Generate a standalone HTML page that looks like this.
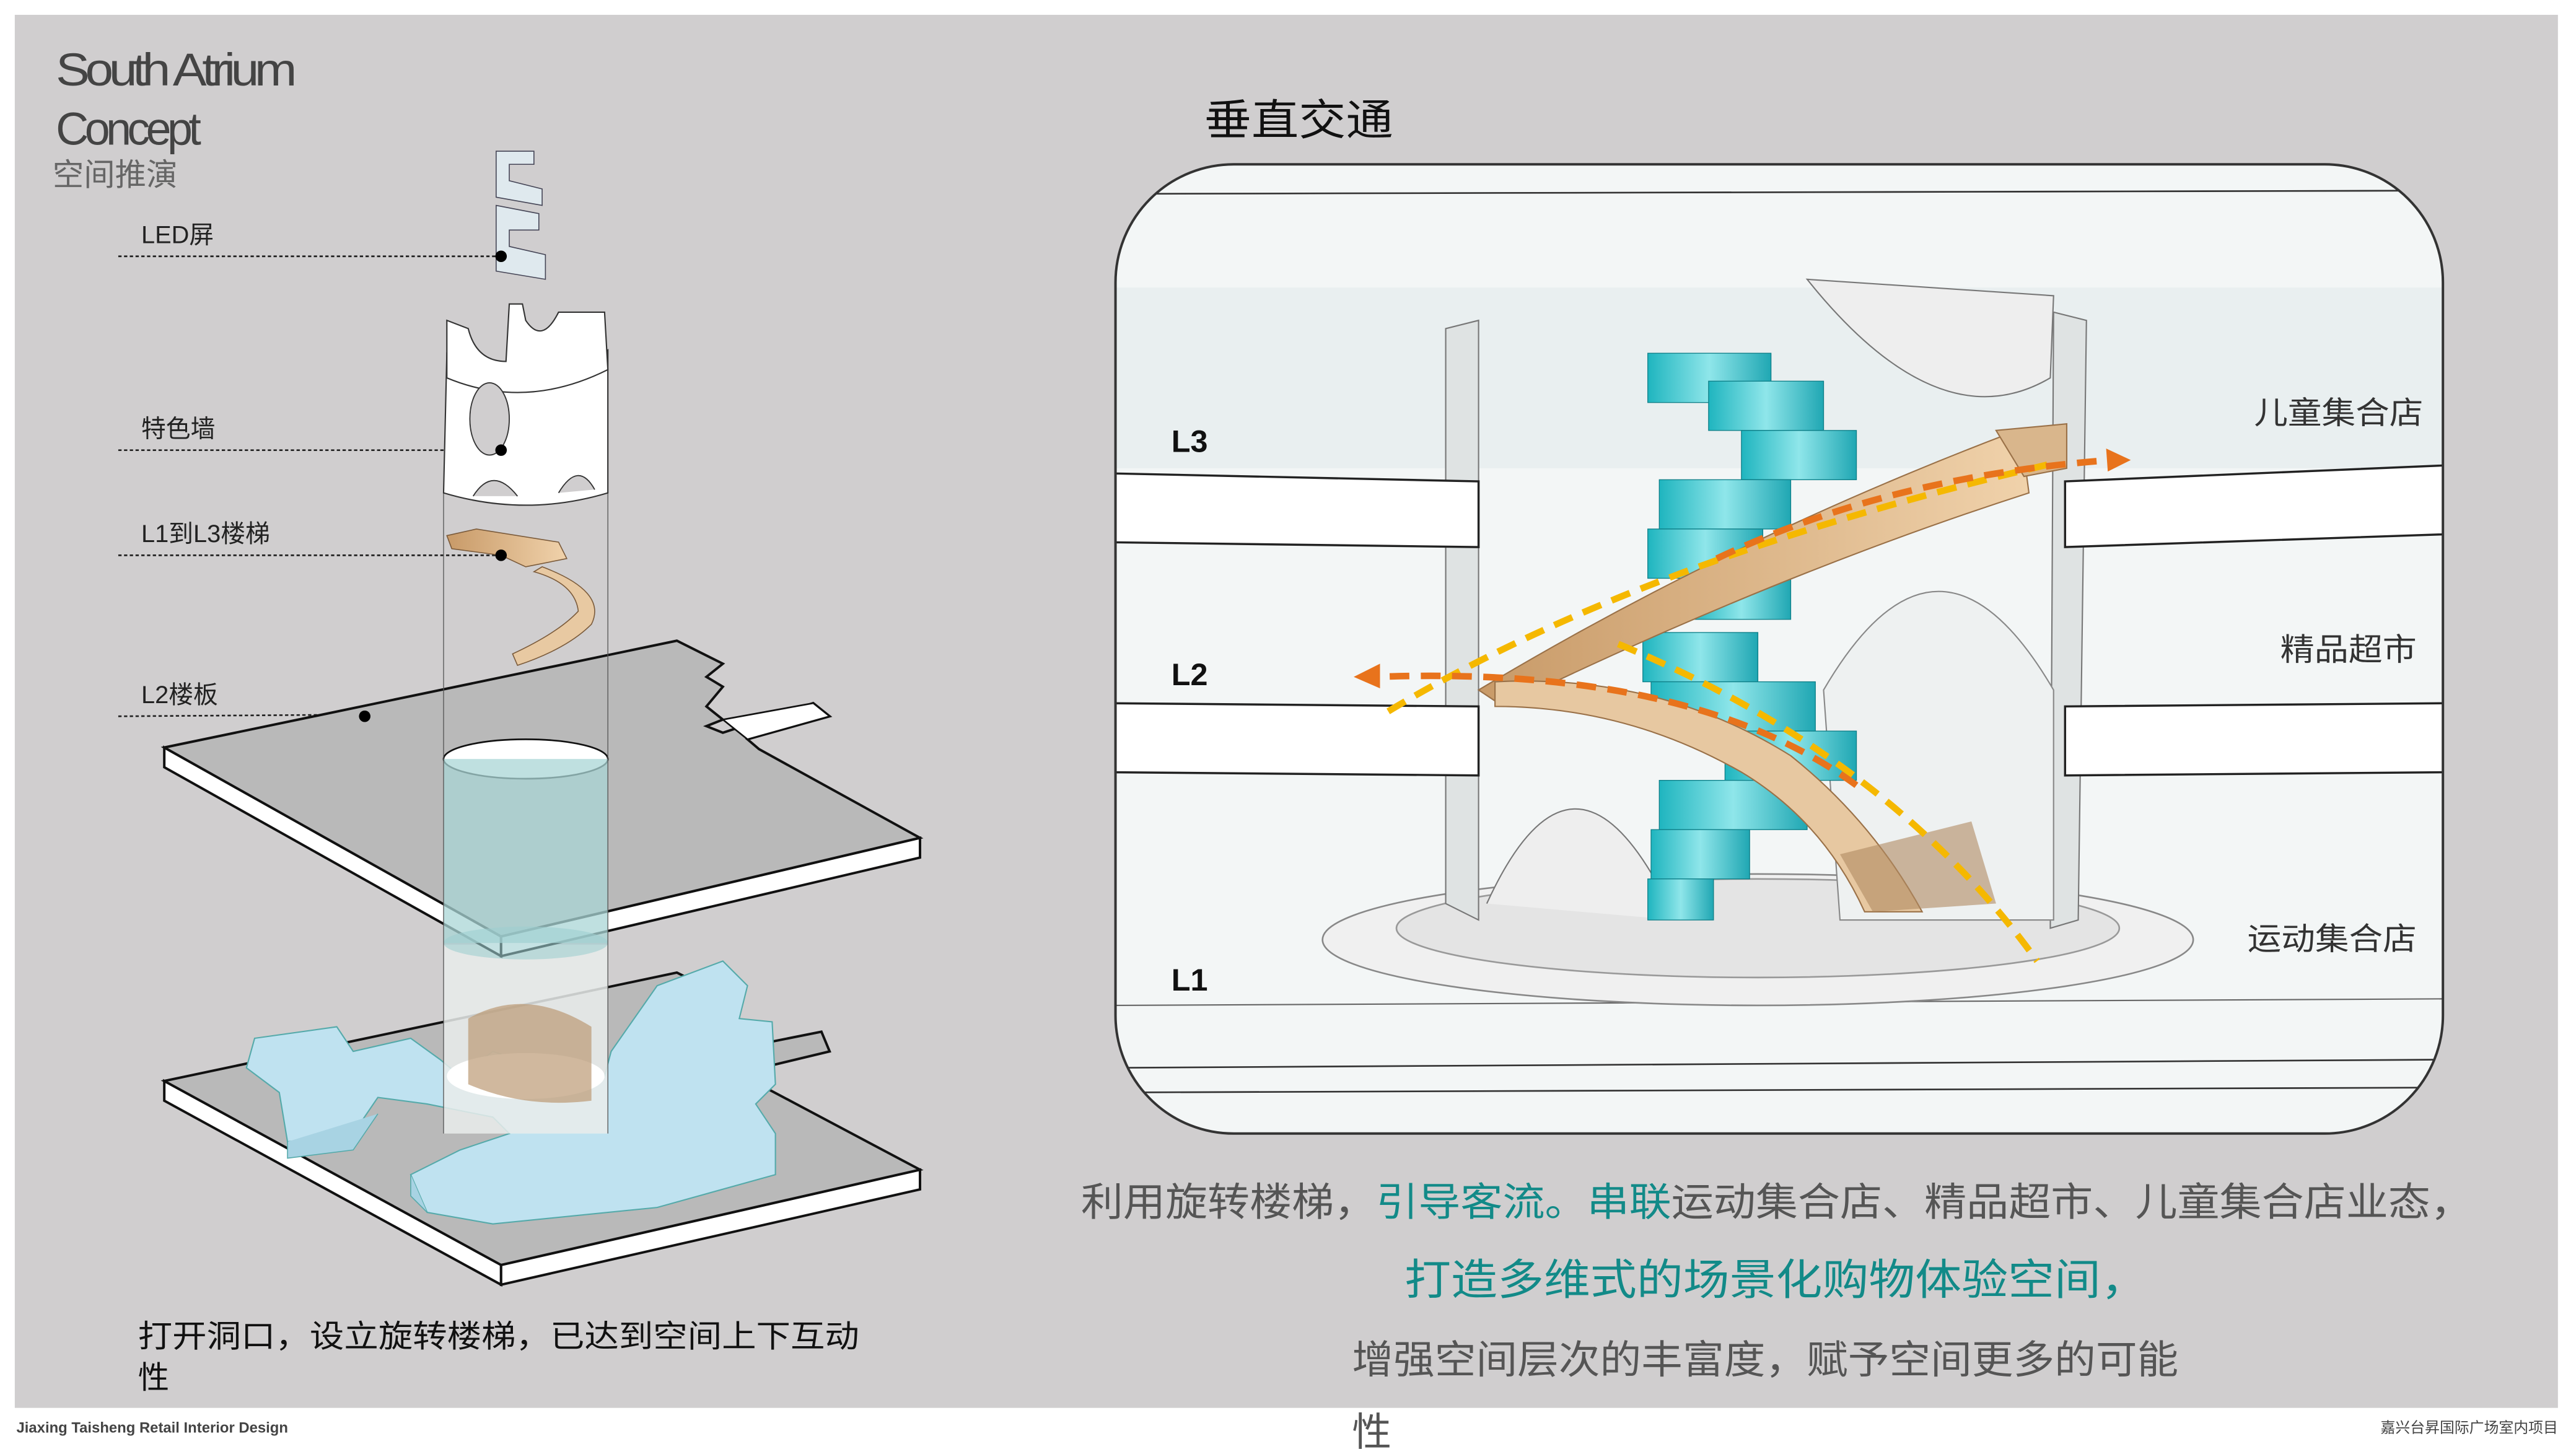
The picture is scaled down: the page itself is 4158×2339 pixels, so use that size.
<!DOCTYPE html>
<html><head><meta charset="utf-8"><style>
html,body{margin:0;padding:0;background:#fff;}
svg{display:block;}
text{font-family:"Liberation Sans","Noto Sans CJK SC",sans-serif;}
</style></head><body>
<svg width="4158" height="2339" viewBox="0 0 1568 882" xmlns="http://www.w3.org/2000/svg">
<defs>
<clipPath id="pc"><rect x="679" y="100" width="808" height="590" rx="72"/></clipPath>
<linearGradient id="tl" x1="0" x2="1"><stop offset="0" stop-color="#1fb5bf"/><stop offset="0.5" stop-color="#8fe6ea"/><stop offset="1" stop-color="#20a7b3"/></linearGradient>
<linearGradient id="wd" x1="0" x2="1"><stop offset="0" stop-color="#c89a68"/><stop offset="1" stop-color="#f0d2ab"/></linearGradient>
</defs>
<rect width="1568" height="882" fill="#fff"/>
<rect x="9" y="9" width="1548" height="848" fill="#d0cecf"/>

<text x="34" y="52" font-size="28" fill="#444" letter-spacing="-2.5" textLength="144" lengthAdjust="spacingAndGlyphs">South Atrium</text>
<text x="34" y="88" font-size="28" fill="#444" letter-spacing="-2.5" textLength="86" lengthAdjust="spacingAndGlyphs">Concept</text>
<text x="32" y="113" font-size="19" fill="#666">空间推演</text>

<g font-size="15" fill="#222">
<text x="86" y="148">LED屏</text>
<text x="86" y="266">特色墙</text>
<text x="86" y="330">L1到L3楼梯</text>
<text x="86" y="428">L2楼板</text>
</g>
<g stroke="#222" stroke-width="1" stroke-dasharray="2,1.5" fill="none">
<line x1="72" y1="156" x2="305" y2="156"/>
<line x1="72" y1="274" x2="305" y2="274"/>
<line x1="72" y1="338" x2="305" y2="338"/>
<path d="M72 436 L218 435"/>
</g>

<!-- L1 slab -->
<polygon points="100,658 305,770 305,782 100,670" fill="#fff" stroke="#111" stroke-width="1.5"/>
<polygon points="305,770 560,712 560,724 305,782" fill="#fff" stroke="#111" stroke-width="1.5"/>
<polygon points="100,658 412,592 440,606 430,614 440,620 430,632 440,640 500,628 505,640 455,652 462,660 560,712 305,770" fill="#b9b9b9" stroke="#111" stroke-width="1.5"/>
<path d="M155 632 L205 625 L215 640 L250 632 L268 645 L280 655 L300 640 L330 650 L368 655 L372 640 L400 600 L440 585 L455 600 L450 620 L470 622 L472 660 L460 672 L472 690 L472 715 L400 735 L300 745 L260 738 L250 715 L280 700 L310 690 L300 680 L260 672 L230 668 L215 690 L175 695 L170 665 L150 650 Z" fill="#bfe2f0" stroke="#5aa" stroke-width="0.8"/>
<path d="M175 695 L175 705 L215 700 L230 678" fill="#a8d3e3" stroke="#5aa" stroke-width="0.6"/>
<path d="M250 715 L250 728 L260 738" fill="#a8d3e3" stroke="#5aa" stroke-width="0.6"/>
<rect x="270" y="575" width="100" height="115" fill="#e9eceb" opacity="0.85"/>
<ellipse cx="320" cy="655" rx="48" ry="14" fill="#fff"/>
<path d="M285 620 Q320 600 360 625 L360 670 Q320 675 285 660 Z" fill="#bc9a75" opacity="0.7"/>

<!-- L2 slab -->
<polygon points="100,455 305,570 305,582 100,467" fill="#fff" stroke="#111" stroke-width="1.5"/>
<polygon points="305,570 560,510 560,522 305,582" fill="#fff" stroke="#111" stroke-width="1.5"/>
<polygon points="100,455 412,390 440,404 430,412 440,418 430,430 440,438 430,442 440,446 495,428 505,436 455,450 462,456 560,510 305,570" fill="#b9b9b9" stroke="#111" stroke-width="1.5"/>
<polygon points="440,438 495,428 505,436 455,450" fill="#fff" stroke="#111"/>
<ellipse cx="320" cy="462" rx="50" ry="12" fill="#fff" stroke="#111"/>
<rect x="270" y="462" width="100" height="112" fill="#a9d6d6" opacity="0.75"/>
<ellipse cx="320" cy="574" rx="50" ry="10" fill="#9fcfd0" opacity="0.6"/>
<line x1="270" y1="300" x2="270" y2="690" stroke="#555" stroke-width="0.5"/>
<line x1="370" y1="300" x2="370" y2="690" stroke="#555" stroke-width="0.5"/>
<circle cx="222" cy="436" r="3.5" fill="#000"/>

<!-- feature wall -->
<path d="M272 215 Q320 235 370 213 L370 300 Q320 315 270 300 Z" fill="#fff" stroke="#333" stroke-width="0.8"/>
<path d="M272 195 L272 230 Q320 250 370 225 L368 190 L340 190 Q330 210 320 195 L318 185 L310 185 L308 220 Q290 220 285 200 Z" fill="#fff" stroke="#333" stroke-width="0.8"/>
<ellipse cx="298" cy="255" rx="12" ry="22" fill="#d0cecf" stroke="#333" stroke-width="0.7"/>
<path d="M288 302 Q300 283 315 302" fill="#d0cecf" stroke="#333" stroke-width="0.7"/>
<path d="M340 300 Q352 280 362 298" fill="#d0cecf" stroke="#333" stroke-width="0.7"/>
<circle cx="305" cy="274" r="3.5" fill="#000"/>

<g fill="#dfe9ee" stroke="#445" stroke-width="0.6">
<path d="M302 92 L325 92 L325 100 L310 100 L310 110 L330 115 L330 125 L302 120 Z"/>
<path d="M302 125 L328 130 L328 140 L310 140 L310 150 L332 155 L332 170 L302 165 Z"/>
</g>
<circle cx="305" cy="156" r="3.5" fill="#000"/>

<path d="M272 326 L290 322 L340 330 L345 340 L320 345 L305 338 L275 334 Z" fill="url(#wd)" stroke="#7a5a3a" stroke-width="0.6"/>
<path d="M330 345 Q370 360 360 380 Q345 395 315 405 L312 398 Q340 385 352 372 Q350 355 325 348 Z" fill="#e8c9a2" stroke="#7a5a3a" stroke-width="0.6"/>
<circle cx="305" cy="338" r="3.5" fill="#000"/>

<text x="84" y="820" font-size="19" fill="#111" textLength="439" lengthAdjust="spacingAndGlyphs">打开洞口，设立旋转楼梯，已达到空间上下互动</text>
<text x="84" y="845" font-size="19" fill="#111">性</text>

<text x="733" y="82" font-size="26" fill="#111" textLength="115" lengthAdjust="spacingAndGlyphs">垂直交通</text>
<rect x="679" y="100" width="808" height="590" rx="72" fill="#fff"/>
<g clip-path="url(#pc)">
<rect x="679" y="100" width="808" height="590" fill="#f3f6f6"/>
<rect x="679" y="175" width="808" height="110" fill="#e9eff0"/>
<line x1="679" y1="118" x2="1487" y2="116" stroke="#333" stroke-width="1"/>
<line x1="679" y1="650" x2="1487" y2="645" stroke="#333" stroke-width="1"/>
<line x1="679" y1="665" x2="1487" y2="662" stroke="#333" stroke-width="1"/>
<line x1="679" y1="612" x2="1487" y2="608" stroke="#666" stroke-width="0.8"/>
<ellipse cx="1070" cy="572" rx="265" ry="40" fill="#f0f0f0" stroke="#888"/>
<ellipse cx="1070" cy="565" rx="220" ry="30" fill="#e4e4e4" stroke="#999"/>
<path d="M880 200 L900 195 L900 560 L880 550 Z" fill="#dfe3e3" stroke="#777" stroke-width="0.8"/>
<path d="M1250 190 L1270 195 L1265 560 L1248 565 Z" fill="#dfe3e3" stroke="#777" stroke-width="0.8"/>
<path d="M1100 170 Q1180 270 1248 230 L1250 180 Z" fill="#eee" stroke="#777" stroke-width="0.8"/>
<path d="M905 550 Q960 430 1020 560" fill="#eee" stroke="#777" stroke-width="0.8"/>
<path d="M1110 420 Q1180 300 1250 420 L1250 560 L1120 560 Z" fill="#eef1f1" stroke="#888" stroke-width="0.8"/>
<g fill="url(#tl)" stroke="#0e7f88" stroke-width="0.5">
<rect x="1003" y="215" width="75" height="30"/>
<rect x="1040" y="232" width="70" height="30"/>
<rect x="1060" y="262" width="70" height="30"/>
<rect x="1010" y="292" width="80" height="30"/>
<rect x="1003" y="322" width="70" height="30"/>
<rect x="1030" y="352" width="60" height="25"/>
<rect x="1000" y="385" width="70" height="30"/>
<rect x="1005" y="415" width="100" height="30"/>
<rect x="1050" y="445" width="80" height="30"/>
<rect x="1010" y="475" width="90" height="30"/>
<rect x="1005" y="505" width="60" height="30"/>
<rect x="1003" y="535" width="40" height="25"/>
</g>
<path d="M900 420 Q1050 330 1220 265 L1230 262 L1235 300 Q1080 350 915 430 Z" fill="url(#wd)" stroke="#9a7148" stroke-width="0.8"/>
<path d="M1215 262 L1258 258 L1258 285 L1232 290 Z" fill="#d9b68c" stroke="#9a7148" stroke-width="0.8"/>
<path d="M910 415 Q1010 410 1090 460 Q1140 500 1170 555 L1135 555 Q1110 500 1060 470 Q990 430 910 430 Z" fill="#e7c8a1" stroke="#9a7148" stroke-width="0.8"/>
<path d="M1120 520 L1200 500 L1215 550 L1140 555 Z" fill="#b08a62" opacity="0.6"/>
<g fill="#fff" stroke="#222" stroke-width="1.3">
<polygon points="670,288 900,293 900,333 670,330"/>
<polygon points="670,428 900,430 900,472 670,470"/>
<polygon points="1257,293 1495,283 1495,325 1257,333"/>
<polygon points="1257,430 1495,428 1495,470 1257,472"/>
</g>
<g fill="none" stroke-width="4" stroke-dasharray="12,7">
<path d="M845 433 Q1000 340 1250 282" stroke="#f5b800"/>
<path d="M985 392 Q1150 460 1240 585" stroke="#f5b800"/>
<path d="M1045 340 Q1150 290 1285 280" stroke="#e8731c"/>
<path d="M1130 478 Q1030 405 838 412" stroke="#e8731c"/>
</g>
<polygon points="1297,280 1282,273 1283,287" fill="#e8731c"/>
<polygon points="824,412 840,404 840,419" fill="#e8731c"/>
</g>
<rect x="679" y="100" width="808" height="590" rx="72" fill="none" stroke="#333" stroke-width="1.5"/>
<g font-size="19" font-weight="bold" fill="#111">
<text x="713" y="275">L3</text>
<text x="713" y="417">L2</text>
<text x="713" y="603">L1</text>
</g>
<g font-size="19" fill="#333">
<text x="1372" y="258" textLength="103" lengthAdjust="spacingAndGlyphs">儿童集合店</text>
<text x="1388" y="402" textLength="83" lengthAdjust="spacingAndGlyphs">精品超市</text>
<text x="1368" y="578" textLength="103" lengthAdjust="spacingAndGlyphs">运动集合店</text>
</g>

<text x="658" y="740" font-size="24" fill="#555" textLength="847" lengthAdjust="spacingAndGlyphs">利用旋转楼梯，<tspan fill="#128a88">引导客流。串联</tspan>运动集合店、精品超市、儿童集合店业态，</text>
<text x="855" y="788" font-size="26" fill="#128a88" textLength="452" lengthAdjust="spacingAndGlyphs">打造多维式的场景化购物体验空间，</text>
<text x="823" y="836" font-size="24" fill="#555" textLength="503" lengthAdjust="spacingAndGlyphs">增强空间层次的丰富度，赋予空间更多的可能</text>
<text x="823" y="880" font-size="24" fill="#555">性</text>

<text x="10" y="872" font-size="9" font-weight="bold" fill="#444">Jiaxing Taisheng Retail Interior Design</text>
<text x="1557" y="872" font-size="9" fill="#444" text-anchor="end">嘉兴台昇国际广场室内项目</text>
</svg>
</body></html>
